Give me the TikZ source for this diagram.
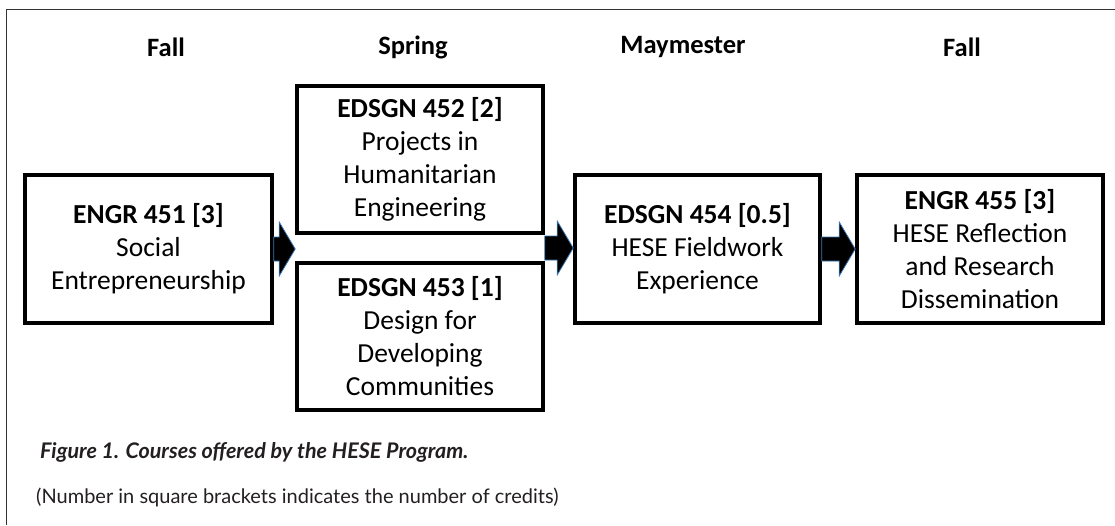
\documentclass[tikz,border=0pt]{standalone}
\usepackage{fontspec}
\setmainfont{Carlito}
\newfontfamily\capfont{Lato}
\usetikzlibrary{calc}
\definecolor{arrowedge}{HTML}{3A78B5}
\definecolor{captext}{HTML}{231F20}
\newcommand{\blockarrow}[2]{%
  \path[blockfill] let \p1=(#1), \p2=(#2) in
    (\x1,\y1+12pt) -- (\x2-16pt,\y1+12pt) -- (\x2-16pt,\y1+27pt) -- (\x2,\y1)
    -- (\x2-16pt,\y1-27pt) -- (\x2-16pt,\y1-12pt) -- (\x1,\y1-12pt) -- cycle;}
\begin{document}
\begin{tikzpicture}[x=1pt, y=-1pt,
    course/.style={draw, line width=3.6pt, align=center, inner sep=0pt,
      minimum height=148pt, font=\fontsize{27.5}{33}\selectfont},
    term/.style={font=\fontsize{26.5}{30}\selectfont\bfseries},
    blockfill/.style={fill=black, draw=arrowedge, line width=0.8pt},
    note/.style={anchor=west, text=captext, inner sep=0pt}]
\useasboundingbox (0,0) rectangle (1115,525);
\draw[line width=1pt, black!80] (6,525) -- (6,9) -- (1115,9);

\node[term] (t1) at (166,47) {Fall};
\node[term] (t2) at (413,47) {Spring};
\node[term] (t3) at (683,47) {Maymester};
\node[term] (t4) at (962,47) {Fall};

\node[course, minimum width=247pt] (e451) at (148.5,249) {\textbf{ENGR 451 [3]}\\Social\\Entrepreneurship};
\node[course, minimum width=246pt, minimum height=147pt] (e452) at (420,159.5) {\textbf{EDSGN 452 [2]}\\Projects in\\Humanitarian\\Engineering};
\node[course, minimum width=246pt, minimum height=147pt] (e453) at (420,336.5) {\textbf{EDSGN 453 [1]}\\Design for\\Developing\\Communities};
\node[course, minimum width=245pt] (e454) at (697.5,249) {\textbf{EDSGN 454 [0.5]}\\HESE Fieldwork\\Experience};
\node[course, minimum width=246pt] (e455) at (980,249) {\textbf{ENGR 455 [3]}\\HESE Reflection\\and Research\\Dissemination};

\coordinate (gap) at ($(e452.south west)!0.5!(e453.north west)$);
\blockarrow{e451.east}{gap}
\blockarrow{e452.east |- gap}{e454.west}
\blockarrow{e454.east}{e455.west}

\node[note, font=\capfont\fontsize{21.5}{24}\selectfont\bfseries\itshape] (cap) at (40,452) {Figure 1. Courses offered by the HESE Program.};
\node[note, font=\capfont\fontsize{20}{24}\selectfont] (credits) at (36,497) {(Number in square brackets indicates the number of credits)};
\end{tikzpicture}
\end{document}
